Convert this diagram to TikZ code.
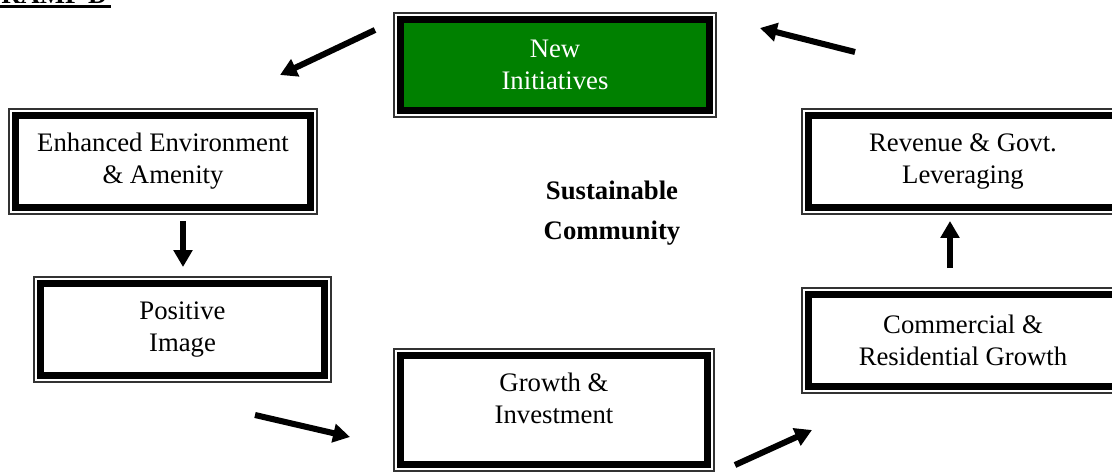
\documentclass[tikz,border=0pt]{standalone}
\usepackage{fontspec}
\setmainfont{Liberation Serif}
\usetikzlibrary{arrows.meta,calc}
\definecolor{newgreen}{RGB}{0,128,0}

\begin{document}
\begin{tikzpicture}[x=0.025cm, y=-0.025cm,
	every node/.style={font=\fontsize{19}{22.8}\selectfont, align=center}]
	\tikzset{
		dblbox/.style={draw, line width=5pt, fill=white, inner sep=0pt, outer sep=0pt,
			preaction={draw, black!80, line width=10.8pt},
			preaction={draw, white, line width=8.6pt}},
		bigarrow/.style={line width=4.3pt, -{Triangle[length=12pt,width=13pt]}}
	}
	\useasboundingbox (0,0) rectangle (1112,473);

	% heading, mostly off the page
	\node[anchor=base west, inner sep=0pt, font=\fontsize{19}{22.8}\selectfont\bfseries] (title) at (1,4) {RAMP D};
	\draw[line width=2.2pt] ($(title.base west)+(-1,2.5)$) -- ($(title.base east)+(3,2.5)$);

	% the cycle
	\node[dblbox, fill=newgreen, text=white, minimum width=7.72cm, minimum height=2.27cm] (new) at (555,65) {New\\Initiatives};
	\node[dblbox, minimum width=7.37cm, minimum height=2.295cm] (enh) at (163,161.5) {Enhanced Environment\\\& Amenity};
	\node[dblbox, minimum width=7.095cm, minimum height=2.295cm] (pos) at (182.5,329.5) {Positive\\Image};
	\node[dblbox, minimum width=7.67cm, minimum height=2.72cm, text depth=0.6cm] (grow) at (554,410) {Growth \&\\Investment};
	\node[dblbox, minimum width=7.72cm, minimum height=2.295cm] (comm) at (963,340.5) {Commercial \&\\Residential Growth};
	\node[dblbox, minimum width=7.72cm, minimum height=2.295cm] (rev) at (963,161.5) {Revenue \& Govt.\\Leveraging};

	\node[font=\fontsize{19}{28.4}\selectfont\bfseries] (sust) at (612,213) {Sustainable\\Community};

	% arrow ends
	\coordinate (a1) at (375,30);  \coordinate (b1) at (280,75);
	\coordinate (a2) at (183,221); \coordinate (b2) at (183,267);
	\coordinate (a3) at (255,415); \coordinate (b3) at (350,437);
	\coordinate (a4) at (735,465); \coordinate (b4) at (812,430);
	\coordinate (a5) at (950,268); \coordinate (b5) at (950,221);
	\coordinate (a6) at (855,52);  \coordinate (b6) at (760,28);
	\foreach \from/\to in {a1/b1, a2/b2, a3/b3, a4/b4, a5/b5, a6/b6}
		\draw[bigarrow] (\from) -- (\to);
\end{tikzpicture}
\end{document}
